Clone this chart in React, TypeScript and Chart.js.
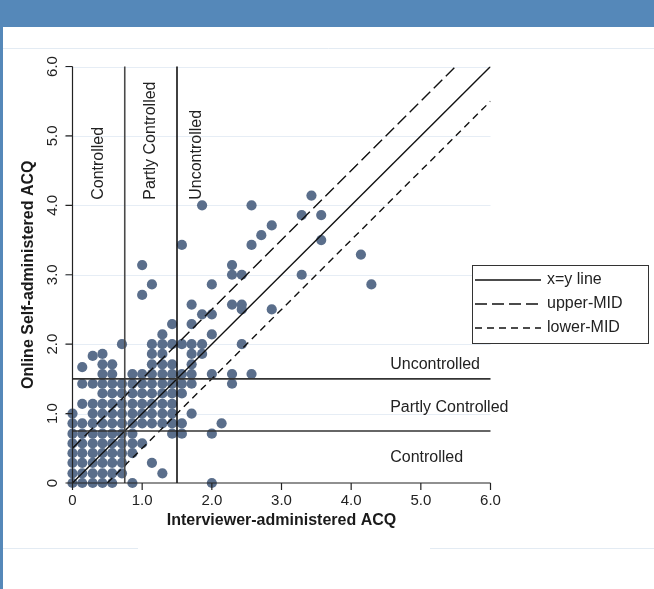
import React, { useEffect, useRef } from "react";
import { Chart, registerables } from "chart.js";

Chart.register(...registerables);

// ---- data ----
const tickValues = [0, 1, 2, 3, 4, 5, 6];
const xTickLabels = ["0", "1.0", "2.0", "3.0", "4.0", "5.0", "6.0"];
const yTickLabels = ["0", "1.0", "2.0", "3.0", "4.0", "5.0", "6.0"];
const controlThresholds = [0.75, 1.5];
const zoneNames = ["Controlled", "Partly Controlled", "Uncontrolled"];

const xyLine = [[0, 0], [6, 6]];
const upperMid = [[0, 0.5], [5.5, 6]];
const lowerMid = [[0.5, 0], [6, 5.5]];
const seriesNames = ["x=y line", "upper-MID", "lower-MID"];

// rows of the dense cluster: [online ACQ (y), interviewer ACQ values (x)]
const clusterRows: [number, number[]][] = [
  [0, [0, 0.14, 0.29, 0.43, 0.57, 0.86, 2.0]],
  [0.14, [0, 0.14, 0.29, 0.43, 0.57, 0.71, 1.29]],
  [0.29, [0, 0.14, 0.29, 0.43, 0.57, 0.71, 1.14]],
  [0.43, [0, 0.14, 0.29, 0.43, 0.57, 0.71, 0.86]],
  [0.57, [0, 0.14, 0.29, 0.43, 0.57, 0.71, 0.86, 1.0]],
  [0.71, [0, 0.14, 0.29, 0.43, 0.57, 0.71, 0.86, 1.43, 1.57, 2.0]],
  [0.86, [0, 0.14, 0.29, 0.43, 0.57, 0.71, 0.86, 1.0, 1.14, 1.29, 1.43, 1.57, 2.14]],
  [1.0, [0, 0.29, 0.43, 0.57, 0.71, 0.86, 1.0, 1.14, 1.29, 1.43, 1.71]],
  [1.14, [0.14, 0.29, 0.43, 0.57, 0.71, 0.86, 1.0, 1.14, 1.29, 1.43]],
  [1.29, [0.43, 0.57, 0.71, 0.86, 1.0, 1.14, 1.29, 1.43, 1.57]],
  [1.43, [0.14, 0.29, 0.43, 0.57, 0.71, 0.86, 1.0, 1.14, 1.29, 1.43, 1.57, 1.71, 2.29]],
  [1.57, [0.43, 0.57, 0.86, 1.0, 1.14, 1.29, 1.43, 1.57, 1.71, 2.0, 2.29, 2.57]],
  [1.71, [0.43, 0.57, 1.14, 1.29, 1.43, 1.71]],
  [1.86, [0.43, 1.14, 1.29, 1.71, 1.86]],
  [2.0, [0.71, 1.14, 1.29, 1.43, 1.57, 1.71, 1.86, 2.43]],
  [2.14, [1.29, 2.0]],
  [2.29, [1.43, 1.71]],
  [2.43, [1.86, 2.0]],
  [2.57, [1.71, 2.29, 2.43]],
];

// scattered individual points [x, y]
const extraPoints: [number, number][] = [
  [0.14, 1.67], [0.29, 1.83], [2.43, 2.5], [2.86, 2.5],
  [1.0, 2.71], [1.14, 2.86], [2.0, 2.86], [1.0, 3.14],
  [2.29, 3.0], [2.43, 3.0], [2.29, 3.14], [3.29, 3.0],
  [4.29, 2.86], [4.14, 3.29], [1.57, 3.43], [2.57, 3.43],
  [3.57, 3.5], [2.71, 3.57], [2.86, 3.71], [3.29, 3.86],
  [3.57, 3.86], [1.86, 4.0], [2.57, 4.0], [3.43, 4.14],
];

const FONT = '"Liberation Sans", Arial, sans-serif';
const DOT = "#5a6e8b";

const decorPlugin = {
  id: "decor",
  beforeDraw(chart: any) {
    const ctx = chart.ctx;
    ctx.save();
    ctx.fillStyle = "#ffffff";
    ctx.fillRect(0, 0, chart.width, chart.height);
    ctx.fillStyle = "#5588b9";
    ctx.fillRect(0, 0, chart.width, 27);
    ctx.fillRect(0, 0, 3, chart.height);
    ctx.strokeStyle = "#e3ebf3";
    ctx.lineWidth = 1;
    ctx.beginPath();
    ctx.moveTo(3, 48.5); ctx.lineTo(chart.width, 48.5);
    ctx.moveTo(3, 548.5); ctx.lineTo(138, 548.5);
    ctx.moveTo(430, 548.5); ctx.lineTo(chart.width, 548.5);
    ctx.stroke();
    // faint gridlines
    const xs = chart.scales.x, ys = chart.scales.y;
    ctx.strokeStyle = "#e6edf5";
    ctx.beginPath();
    tickValues.slice(1).forEach((v) => {
      const py = Math.round(ys.getPixelForValue(v)) + 0.5;
      ctx.moveTo(xs.getPixelForValue(0) - 8, py);
      ctx.lineTo(xs.getPixelForValue(6), py);
    });
    ctx.stroke();
    ctx.restore();
  },
  afterDatasetsDraw(chart: any) {
    const ctx = chart.ctx;
    const xs = chart.scales.x, ys = chart.scales.y;
    const X = (v: number) => xs.getPixelForValue(v);
    const Y = (v: number) => ys.getPixelForValue(v);
    ctx.save();
    // threshold lines
    ctx.lineWidth = 1.6;
    controlThresholds.forEach((t, i) => {
      ctx.strokeStyle = i === 0 ? "#4a4a4a" : "#111111";
      ctx.beginPath();
      ctx.moveTo(X(t), Y(0)); ctx.lineTo(X(t), Y(6));
      ctx.stroke();
      ctx.strokeStyle = "#333333";
      ctx.beginPath();
      ctx.moveTo(X(0), Y(t)); ctx.lineTo(X(6), Y(t));
      ctx.stroke();
    });
    // axes
    ctx.strokeStyle = "#222";
    ctx.lineWidth = 1.2;
    ctx.beginPath();
    ctx.moveTo(X(0), Y(0)); ctx.lineTo(X(0), Y(6));
    ctx.moveTo(X(0), Y(0)); ctx.lineTo(X(6), Y(0));
    tickValues.forEach((v) => {
      ctx.moveTo(X(0) - 7, Y(v)); ctx.lineTo(X(0), Y(v));
      ctx.moveTo(X(v), Y(0)); ctx.lineTo(X(v), Y(0) + 7);
    });
    ctx.stroke();
    // tick labels
    ctx.fillStyle = "#222";
    ctx.font = `15px ${FONT}`;
    ctx.textAlign = "center";
    ctx.textBaseline = "middle";
    tickValues.forEach((v, i) => {
      ctx.fillText(xTickLabels[i], X(v), Y(0) + 18);
      ctx.save();
      ctx.translate(X(0) - 20, Y(v));
      ctx.rotate(-Math.PI / 2);
      ctx.fillText(yTickLabels[i], 0, 0);
      ctx.restore();
    });
    // axis titles
    ctx.font = `bold 16px ${FONT}`;
    ctx.fillStyle = "#1a1a1a";
    ctx.fillText("Interviewer-administered ACQ", (X(0) + X(6)) / 2, Y(0) + 38);
    ctx.save();
    ctx.translate(29, (Y(0) + Y(6)) / 2);
    ctx.rotate(-Math.PI / 2);
    ctx.fillText("Online Self-administered ACQ", 0, 0);
    ctx.restore();
    // zone labels
    ctx.font = `16px ${FONT}`;
    ctx.fillStyle = "#222";
    const vx = [X(0.38), X(1.12), X(1.78)];
    zoneNames.forEach((name, i) => {
      ctx.save();
      ctx.translate(vx[i], Y(4.08));
      ctx.rotate(-Math.PI / 2);
      ctx.textAlign = "left";
      ctx.fillText(name, 0, 0);
      ctx.restore();
    });
    ctx.textAlign = "left";
    const hy = [Y(0.37), Y(1.08), Y(1.71)];
    zoneNames.forEach((name, i) => {
      ctx.fillText(name, X(4.56), hy[i]);
    });
    // legend
    const lx = 472.5, ly = 265.5, lw = 176, lh = 78;
    ctx.fillStyle = "#ffffff";
    ctx.fillRect(lx, ly, lw, lh);
    ctx.strokeStyle = "#333";
    ctx.lineWidth = 1;
    ctx.strokeRect(lx, ly, lw, lh);
    const dashes = [[], [12, 5], [7, 5]];
    seriesNames.forEach((name, i) => {
      const yy = 280 + i * 24;
      ctx.setLineDash(dashes[i]);
      ctx.strokeStyle = "#111";
      ctx.lineWidth = 1.4;
      ctx.beginPath();
      ctx.moveTo(475, yy); ctx.lineTo(541, yy);
      ctx.stroke();
      ctx.setLineDash([]);
      ctx.fillStyle = "#222";
      ctx.font = `16px ${FONT}`;
      ctx.fillText(name, 547, yy);
    });
    ctx.restore();
  },
};

export default function App() {
  const ref = useRef<HTMLCanvasElement | null>(null);
  useEffect(() => {
    if (!ref.current) return;
    const toXY = (arr: number[][]) => arr.map(([x, y]) => ({ x, y }));
    const pts: { x: number; y: number }[] = [];
    clusterRows.forEach(([y, xs]) => xs.forEach((x) => pts.push({ x, y })));
    extraPoints.forEach(([x, y]) => pts.push({ x, y }));
    const lineDs = (label: string, d: number[][], dash: number[]) => ({
      type: "line" as const,
      label,
      data: toXY(d),
      borderColor: "#111",
      borderWidth: 1.4,
      borderDash: dash,
      pointRadius: 0,
      fill: false,
      order: 0,
    });
    const chart = new Chart(ref.current, {
      type: "scatter",
      data: {
        datasets: [
          lineDs(seriesNames[0], xyLine, []),
          lineDs(seriesNames[1], upperMid, [12, 5]),
          lineDs(seriesNames[2], lowerMid, [7, 5]),
          {
            label: "ACQ",
            data: pts,
            backgroundColor: DOT,
            borderWidth: 0,
            pointRadius: 5.1,
            clip: false,
            order: 1,
          } as any,
        ],
      },
      options: {
        responsive: false,
        animation: false,
        devicePixelRatio: 1,
        layout: { padding: { left: 72.5, right: 163.5, top: 66.5, bottom: 106 } },
        scales: {
          x: { type: "linear", min: 0, max: 6, display: false },
          y: { type: "linear", min: 0, max: 6, display: false },
        },
        plugins: { legend: { display: false }, tooltip: { enabled: false } },
      },
      plugins: [decorPlugin],
    });
    return () => chart.destroy();
  }, []);
  return (
    <div style={{ position: "fixed", left: 0, top: 0, width: 654, height: 589, background: "#fff" }}>
      <canvas ref={ref} width={654} height={589} style={{ display: "block" }} />
    </div>
  );
}
